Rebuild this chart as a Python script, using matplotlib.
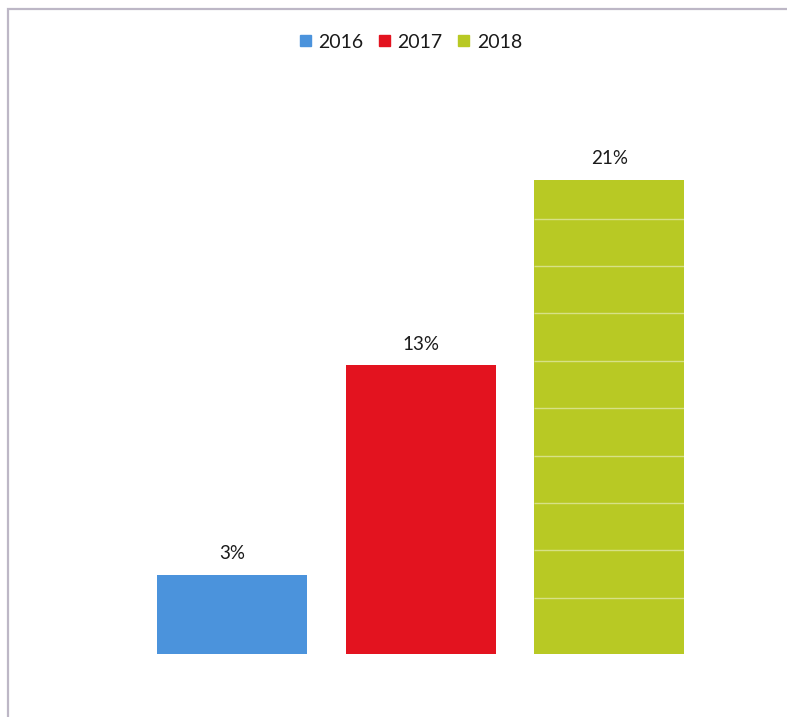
"""Three-year bar chart with percentage labels."""
import numpy as np
import matplotlib
matplotlib.use("Agg")
import matplotlib.pyplot as plt
from matplotlib.patches import Rectangle

years = ["2016", "2017", "2018"]
values = [3.45, 12.6, 20.7]
colors = ["#4b93dc", "#e3131f", "#b8c924"]

plt.rcParams["font.family"] = ["Lato", "DejaVu Sans"]

fig = plt.figure(figsize=(7.87, 7.17), dpi=100)
ax = fig.add_axes([0.175, 0.0879, 0.719, 0.7665])

x = np.arange(len(years))
w = 0.796
bars = ax.bar(x, values, width=w, color=colors, label=years, zorder=2)

# faint print banding visible across the tallest bar
band = np.arange(2.45, values[2] - 1, 2.07)
ax.hlines(band, x[2] - w / 2, x[2] + w / 2, colors="white", lw=1, alpha=0.45, zorder=3)

for b, v in zip(bars, values):
    ax.annotate("%.0f%%" % v, (b.get_x() + b.get_width() / 2, v), xytext=(0, 9),
                textcoords="offset points", ha="center", va="bottom", fontsize=13.5,
                color="#1a1a1a")

ax.set_xlim(-0.5, 2.5); ax.set_ylim(0, 24)
ax.axis("off")

handles = [Rectangle((0, 0), 1, 1, color=c) for c in colors]
fig.legend(handles, years, loc="center", bbox_to_anchor=(411 / 787, 1 - 42 / 717),
           ncol=3, frameon=False, fontsize=14, handlelength=0.55, handleheight=0.55,
           handletextpad=0.4, columnspacing=0.8, labelcolor="#1a1a1a")

# page border from the scan
fig.patches.append(Rectangle((8 / 787, -0.1), 1.2, 1 - 9 / 717 + 0.1, transform=fig.transFigure,
                             fill=False, edgecolor="#bdb7c6", lw=1.6))

fig.savefig("out.png", dpi=100)
